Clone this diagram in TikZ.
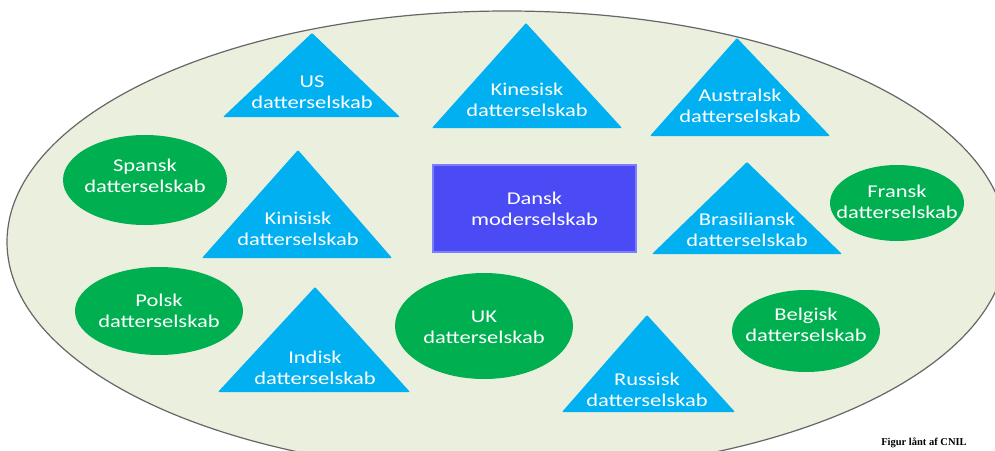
\documentclass[tikz,border=0pt]{standalone}
\usepackage{fontspec}
\setmainfont{Carlito}[FakeStretch=1.25]
\newfontfamily\capfont{Liberation Serif}
\usetikzlibrary{shapes.geometric}

\definecolor{triblue}{RGB}{0,176,240}
\definecolor{ovgreen}{RGB}{0,176,80}
\definecolor{bgoval}{RGB}{235,239,222}
\definecolor{dkblue}{RGB}{75,75,245}
\definecolor{dkblueline}{RGB}{125,125,255}

\tikzstyle{group} = [fill=bgoval, draw=black!60, line width=1.2pt]
\tikzstyle{tri} = [fill=triblue, rounded corners=1pt]
\tikzstyle{grn} = [fill=ovgreen]
\tikzstyle{txt} = [text=white, align=center, inner sep=0pt, font=\fontsize{18}{21}\selectfont]
\tikzstyle{mother} = [rectangle, minimum width=203pt, minimum height=87pt, fill=dkblue, draw=dkblueline, line width=1.5pt, text=white, align=center, font=\fontsize{18}{21}\selectfont]

\begin{document}
\begin{tikzpicture}[x=1pt, y=-1pt]

\useasboundingbox (0,0) rectangle (995,450);

\fill[white] (0,0) rectangle (995,450);

\draw [group] (507,242) ellipse [x radius=500pt, y radius=231pt];

% triangles
\fill [tri] (312,33) -- (400,117) -- (223,117) -- cycle;
\node (us) [txt] at (312,92) {US\\datterselskab};

\fill [tri] (526,23) -- (622,128) -- (432,128) -- cycle;
\node (kinesisk) [txt] at (527,100) {Kinesisk\\datterselskab};

\fill [tri] (737,38) -- (830,136) -- (650,136) -- cycle;
\node (australsk) [txt] at (740,106) {Australsk\\datterselskab};

\fill [tri] (298,150) -- (392,258) -- (202,258) -- cycle;
\node (kinisisk) [txt] at (298,229) {Kinisisk\\datterselskab};

\fill [tri] (747,162) -- (842,254) -- (652,254) -- cycle;
\node (brasiliansk) [txt] at (747,230) {Brasiliansk\\datterselskab};

\fill [tri] (315,287) -- (410,392) -- (218,392) -- cycle;
\node (indisk) [txt] at (315,368) {Indisk\\datterselskab};

\fill [tri] (647,315) -- (735,412) -- (562,412) -- cycle;
\node (russisk) [txt] at (647,390) {Russisk\\datterselskab};

% green ovals
\fill [grn] (145,180) ellipse [x radius=82pt, y radius=45pt];
\node (spansk) [txt] at (145,176) {Spansk\\datterselskab};

\fill [grn] (159,311) ellipse [x radius=84pt, y radius=44pt];
\node (polsk) [txt] at (159,311) {Polsk\\datterselskab};

\fill [grn] (484,326) ellipse [x radius=89pt, y radius=53pt];
\node (uk) [txt] at (484,327) {UK\\datterselskab};

\fill [grn] (897,203) ellipse [x radius=67pt, y radius=38pt];
\node (fransk) [txt] at (897,202) {Fransk\\datterselskab};

\fill [grn] (806,331) ellipse [x radius=74pt, y radius=41pt];
\node (belgisk) [txt] at (806,325) {Belgisk\\datterselskab};

% mother company
\node (dansk) [mother] at (534.5,208.5) {Dansk\\moderselskab};

\node (cap) [font=\capfont\bfseries\fontsize{10.5}{12}\selectfont] at (924,443) {Figur lånt af CNIL};

\end{tikzpicture}
\end{document}
